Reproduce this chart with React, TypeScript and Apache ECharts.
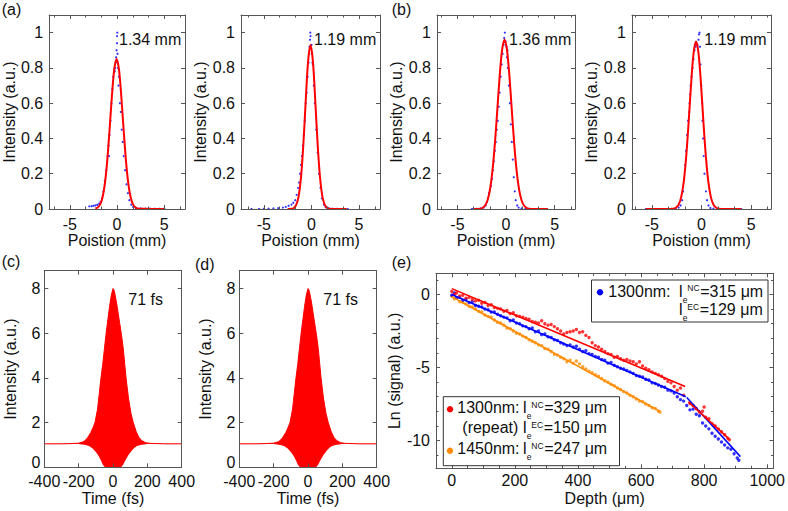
import React, { useEffect, useRef } from "react";
import * as echarts from "echarts";

const FONT = "'Liberation Sans', Arial, Helvetica, sans-serif";
const FS = 16;
const SUBFS = 8.5;
const AXIS_COLOR = "#555555";
const TEXT_COLOR = "#111111";
const RED = "#ff0000";
const BLUE = "#0000ff";
const ORANGE = "#ff8a00";

// ---------- tick values ----------
const positionTicks = [-5, 0, 5];
const positionMinorTicks = [-6.67, -3.33, -1.67, 1.67, 3.33, 6.67];
const intensityTicks = [0, 0.2, 0.4, 0.6, 0.8, 1];
const timeTicks = [-400, -200, 0, 200, 400];
const acTicks = [0, 2, 4, 6, 8];
const depthTicks = [0, 200, 400, 600, 800, 1000];
const depthMinorTicks = [-50, 50, 100, 150, 250, 300, 350, 450, 500, 550, 650, 700, 750, 850, 900, 950];
const lnTicks = [-10, -5, 0];
const lnMinorTicks = [-11, -9, -8, -7, -6, -4, -3, -2, -1, 1];

// ---------- (a)/(b) beam profiles: measured dots and Gaussian fits ----------
const profileLabels = ["1.34 mm", "1.19 mm", "1.36 mm", "1.19 mm"];

const fitA1 = [[-2.3,0.003],[-2.05,0.009],[-1.8,0.025],[-1.55,0.064],[-1.3,0.141],[-1.05,0.269],[-0.8,0.445],[-0.55,0.638],[-0.3,0.791],[-0.05,0.85],[0.2,0.791],[0.45,0.638],[0.7,0.445],[0.95,0.269],[1.2,0.141],[1.45,0.064],[1.7,0.025],[1.95,0.009],[2.2,0.003],[3,0.001],[4,0],[5,0]];
const dataA1 = [[-2.95,0.015],[-2.7,0.016],[-2.5,0.018],[-2.3,0.02],[-2.1,0.024],[-1.9,0.03],[-1.75,0.04],[-1.6,0.06],[-1.45,0.1],[-1.3,0.16],[-1.15,0.22],[-1.0,0.3],[-0.95,0.33],[-0.9,0.36],[-0.85,0.3],[-0.8,0.42],[-0.7,0.5],[-0.6,0.6],[-0.5,0.68],[-0.4,0.75],[-0.3,0.79],[-0.25,0.78],[-0.2,0.8],[-0.15,0.83],[-0.1,0.86],[-0.05,0.9],[0,0.94],[0,0.98],[0.02,1.0],[0.05,0.88],[0.1,0.8],[0.15,0.7],[0.2,0.75],[0.3,0.6],[0.4,0.55],[0.5,0.45],[0.6,0.38],[0.7,0.3],[0.85,0.22],[1.0,0.14],[1.15,0.09],[1.3,0.05],[1.5,0.025],[1.7,0.012],[2.0,0.006],[2.5,0.003],[3,0.002],[3.5,0.002],[4,0.001],[4.5,0.001],[5,0.001]];

const fitA2 = [[-2.5,0],[-2.1,0.001],[-1.85,0.006],[-1.6,0.023],[-1.35,0.07],[-1.1,0.178],[-0.85,0.367],[-0.6,0.615],[-0.35,0.839],[-0.1,0.93],[0.15,0.839],[0.4,0.615],[0.65,0.367],[0.9,0.178],[1.15,0.07],[1.4,0.023],[1.65,0.006],[1.9,0.001],[2.5,0],[3.7,0]];
const dataA2 = [[-6.3,0.0],[-5.5,0.0],[-5,0.001],[-4.5,0.002],[-4,0.003],[-3.5,0.005],[-3,0.008],[-2.7,0.012],[-2.4,0.018],[-2.1,0.025],[-1.9,0.035],[-1.7,0.05],[-1.55,0.08],[-1.4,0.12],[-1.3,0.15],[-1.2,0.2],[-1.1,0.25],[-1.0,0.3],[-0.9,0.36],[-0.8,0.42],[-0.7,0.5],[-0.6,0.6],[-0.5,0.66],[-0.4,0.75],[-0.3,0.83],[-0.25,0.88],[-0.2,0.92],[-0.15,0.96],[-0.12,1.0],[-0.1,0.98],[0,0.93],[0.05,0.88],[0.1,0.83],[0.15,0.82],[0.25,0.7],[0.35,0.6],[0.5,0.45],[0.65,0.32],[0.8,0.2],[0.95,0.12],[1.1,0.06],[1.3,0.025],[1.5,0.01],[1.8,0.004],[2.2,0.002],[2.7,0.001],[3.2,0.0],[3.8,0.0]];

const fitB1 = [[-3.4,0],[-2.65,0.002],[-2.4,0.007],[-2.15,0.02],[-1.9,0.05],[-1.65,0.109],[-1.4,0.213],[-1.15,0.366],[-0.9,0.558],[-0.65,0.755],[-0.4,0.903],[-0.15,0.96],[0.1,0.903],[0.35,0.755],[0.6,0.558],[0.85,0.366],[1.1,0.213],[1.35,0.109],[1.6,0.05],[1.85,0.02],[2.1,0.007],[2.35,0.002],[3,0],[4.3,0]];
const dataB1 = [[-3.5,0.0],[-3,0.001],[-2.6,0.003],[-2.3,0.008],[-2.1,0.02],[-1.95,0.04],[-1.85,0.06],[-1.75,0.09],[-1.65,0.11],[-1.55,0.13],[-1.45,0.17],[-1.35,0.22],[-1.25,0.27],[-1.15,0.33],[-1.05,0.38],[-0.95,0.45],[-0.85,0.5],[-0.75,0.58],[-0.65,0.66],[-0.55,0.75],[-0.45,0.82],[-0.35,0.88],[-0.25,0.93],[-0.18,0.97],[-0.12,1.0],[-0.05,0.95],[0.05,0.92],[0.1,0.86],[0.15,0.9],[0.2,0.8],[0.3,0.7],[0.4,0.6],[0.5,0.48],[0.6,0.38],[0.7,0.28],[0.8,0.18],[0.9,0.1],[1.0,0.05],[1.15,0.02],[1.3,0.008],[1.6,0.003],[2.0,0.001],[2.5,0.0],[3.0,0.0],[3.5,0.0],[4.2,0.0]];

const fitB2 = [[-5.6,0],[-3.5,0],[-2.8,0.002],[-2.55,0.008],[-2.3,0.025],[-2.05,0.066],[-1.8,0.149],[-1.55,0.291],[-1.3,0.488],[-1.05,0.707],[-0.8,0.883],[-0.55,0.95],[-0.3,0.883],[-0.05,0.707],[0.2,0.488],[0.45,0.291],[0.7,0.149],[0.95,0.066],[1.2,0.025],[1.45,0.008],[1.7,0.002],[2.5,0],[4.0,0]];
const dataB2 = [[-5.6,0.0],[-5,0.0],[-4.5,0.0],[-4,0.0],[-3.5,0.0],[-3,0.001],[-2.6,0.003],[-2.3,0.008],[-2.1,0.02],[-1.95,0.05],[-1.85,0.1],[-1.75,0.17],[-1.65,0.25],[-1.55,0.33],[-1.45,0.42],[-1.35,0.5],[-1.25,0.55],[-1.2,0.6],[-1.15,0.65],[-1.1,0.7],[-1.0,0.75],[-0.9,0.8],[-0.8,0.85],[-0.7,0.9],[-0.6,0.92],[-0.5,0.93],[-0.4,0.93],[-0.3,0.96],[-0.25,0.99],[-0.2,1.0],[-0.15,0.92],[-0.1,0.82],[-0.02,0.7],[0.06,0.6],[0.1,0.5],[0.16,0.4],[0.22,0.3],[0.3,0.2],[0.45,0.1],[0.56,0.05],[0.7,0.02],[0.9,0.006],[1.2,0.002],[2,0.0],[3,0.0],[4,0.0]];

// ---------- (c)/(d) interferometric autocorrelation envelopes ----------
const acLabel = "71 fs";
const acUpper = [[-400,1.05],[-300,1.05],[-250,1.06],[-200,1.08],[-170,1.15],[-150,1.3],[-130,1.55],[-115,1.8],[-105,2.0],[-90,2.6],[-80,3.3],[-70,4.0],[-60,4.6],[-50,5.3],[-40,6.0],[-30,6.6],[-20,7.2],[-10,7.7],[0,8.0],[5,7.95],[10,7.8],[20,7.4],[30,6.9],[40,6.4],[50,5.9],[60,5.3],[76,4.0],[90,3.1],[105,2.4],[118,2.0],[135,1.6],[150,1.35],[167,1.2],[190,1.1],[220,1.07],[300,1.05],[400,1.05]];
const acLower = [[-400,1.05],[-200,1.04],[-160,1.0],[-140,0.95],[-120,0.85],[-100,0.68],[-90,0.58],[-80,0.45],[-70,0.3],[-60,0.12],[-50,0.02],[-40,0],[40,0],[50,0.03],[60,0.12],[70,0.28],[80,0.42],[90,0.55],[100,0.65],[110,0.75],[125,0.87],[140,0.95],[160,1.0],[200,1.04],[400,1.05]];

// ---------- (e) depth-dependent signal ----------
const blue1300 = [[0,-0.05],[8,0.1],[15,-0.25],[25,-0.2],[35,-0.4],[45,-0.35],[55,-0.55],[65,-0.5],[75,-0.75],[85,-0.8],[95,-0.85],[105,-1.0],[115,-1.05],[125,-1.2],[135,-1.2],[145,-1.35],[155,-1.45],[165,-1.55],[175,-1.6],[185,-1.8],[195,-1.75],[205,-1.95],[215,-2.0],[225,-2.15],[235,-2.2],[245,-2.35],[255,-2.3],[265,-2.55],[275,-2.5],[285,-2.75],[295,-2.7],[305,-2.9],[315,-2.95],[325,-3.1],[335,-3.15],[345,-3.3],[355,-3.4],[365,-3.5],[375,-3.45],[385,-3.6],[395,-3.55],[405,-3.75],[415,-3.9],[425,-3.85],[435,-4.05],[445,-4.1],[455,-4.25],[465,-4.3],[475,-4.45],[485,-4.5],[495,-4.7],[505,-4.65],[515,-4.85],[525,-4.95],[535,-5.05],[545,-5.1],[555,-5.2],[565,-5.3],[575,-5.4],[585,-5.55],[595,-5.6],[605,-5.65],[615,-5.8],[625,-5.85],[635,-6.05],[645,-6.1],[655,-6.2],[665,-6.3],[675,-6.35],[685,-6.55],[695,-6.6],[705,-6.75],[715,-7.0],[725,-7.2],[735,-7.3],[745,-7.6],[755,-7.9],[765,-7.85],[775,-8.2],[785,-8.3],[795,-8.8],[805,-9.0],[815,-9.2],[825,-9.5],[835,-9.7],[845,-9.9],[855,-10.1],[865,-10.3],[875,-10.5],[885,-10.6],[895,-10.9],[905,-11.2],[910,-11.35]];
const red1300 = [[0,0.2],[8,0.0],[15,0.1],[25,-0.1],[35,-0.05],[45,-0.25],[55,-0.2],[65,-0.35],[75,-0.45],[85,-0.4],[95,-0.6],[105,-0.55],[115,-0.75],[125,-0.7],[135,-0.9],[145,-0.95],[155,-1.0],[165,-1.15],[175,-1.1],[185,-1.3],[195,-1.25],[205,-1.45],[215,-1.5],[225,-1.55],[235,-1.65],[245,-1.7],[255,-1.85],[265,-1.9],[275,-1.95],[285,-1.8],[295,-2.0],[305,-2.1],[315,-2.05],[325,-2.2],[335,-2.35],[345,-2.5],[355,-2.7],[365,-2.6],[375,-2.55],[385,-2.5],[395,-2.4],[405,-2.6],[415,-2.55],[425,-2.8],[435,-2.95],[445,-3.3],[455,-3.5],[465,-3.6],[475,-3.75],[485,-3.9],[495,-4.05],[505,-4.1],[515,-4.3],[525,-4.25],[535,-4.4],[545,-4.5],[555,-4.45],[565,-4.55],[575,-4.6],[585,-4.75],[595,-4.6],[605,-4.9],[615,-5.05],[625,-5.15],[635,-5.3],[645,-5.4],[655,-5.5],[665,-5.6],[675,-5.75],[685,-5.95],[695,-6.05],[705,-6.3],[715,-6.55],[725,-6.4],[735,-6.9],[755,-7.45],[765,-7.6],[775,-7.8],[785,-8.05],[795,-8.0],[800,-7.7],[805,-8.4],[815,-8.5],[825,-8.85],[835,-9.0],[845,-9.2],[855,-9.4],[865,-9.6],[875,-9.85],[880,-9.95]];
const orange1450 = [[0,-0.1],[8,-0.3],[15,-0.25],[25,-0.5],[35,-0.55],[45,-0.65],[55,-0.8],[65,-0.85],[75,-1.0],[85,-1.15],[95,-1.2],[105,-1.4],[115,-1.5],[125,-1.55],[135,-1.75],[145,-1.9],[155,-1.95],[165,-2.1],[175,-2.3],[185,-2.35],[195,-2.5],[205,-2.65],[215,-2.7],[225,-2.85],[235,-2.95],[245,-3.1],[255,-3.2],[265,-3.3],[275,-3.45],[285,-3.5],[295,-3.7],[305,-3.75],[315,-3.9],[325,-4.1],[335,-4.15],[345,-4.3],[355,-4.4],[365,-4.6],[375,-4.5],[385,-4.7],[395,-4.55],[405,-4.75],[415,-4.95],[425,-5.1],[435,-5.25],[445,-5.35],[455,-5.5],[465,-5.6],[475,-5.75],[485,-5.9],[495,-6.0],[505,-6.15],[515,-6.25],[525,-6.4],[535,-6.5],[545,-6.65],[555,-6.75],[565,-6.9],[575,-7.0],[585,-7.15],[595,-7.3],[605,-7.35],[615,-7.5],[625,-7.6],[635,-7.75],[645,-7.8],[655,-8.0],[660,-8.05]];
const fitRedNC = [[0,0.4],[740,-6.3]];
const fitRedEC = [[750,-7.35],[880,-9.9]];
const fitBlueNC = [[0,0],[742,-7.0]];
const fitBlueEC = [[745,-7.05],[915,-11.1]];
const fitOrangeNC = [[0,-0.15],[660,-8.0]];
const legendValues = { blueNC: "=315 μm", blueEC: "=129 μm", redNC: "=329 μm", redEC: "=150 μm", orangeNC: "=247 μm" };

let measureCtx: CanvasRenderingContext2D | null = null;
function measure(text: string, size: number): number {
  if (!measureCtx) measureCtx = document.createElement("canvas").getContext("2d");
  if (!measureCtx) return text.length * size * 0.55;
  measureCtx.font = `${size}px ${FONT}`;
  return measureCtx.measureText(text).width;
}

function txt(x: number, yMid: number, text: string, size = FS, align = "left"): any {
  return {
    type: "text",
    x,
    y: yMid,
    z: 60,
    silent: true,
    style: {
      text,
      fontSize: size,
      fontFamily: FONT,
      fill: TEXT_COLOR,
      align,
      verticalAlign: "middle",
      textAlign: align,
      textVerticalAlign: "middle",
      lineHeight: Math.round(size * 0.8),
    },
  };
}

// text placed by its baseline: mid = baseline - 0.35*size
function tb(x: number, baseline: number, text: string, size = FS) {
  return txt(x, baseline - 0.35 * size, text, size);
}

function attLine(xL: number, baseline: number, sub: string, sup: string, post: string) {
  const els: any[] = [];
  els.push(tb(xL, baseline, "l"));
  const xs = xL + measure("l", FS) + 0.3;
  els.push(tb(xs, baseline + 6, sub, SUBFS));
  const xsup = xs + measure(sub, SUBFS) - 0.3;
  els.push(tb(xsup, baseline - 5.5, sup, SUBFS));
  const xpost = xsup + measure(sup, SUBFS) + 0.6;
  els.push(tb(xpost, baseline, post));
  return els;
}

export default function App() {
  const ref = useRef<HTMLDivElement>(null);

  useEffect(() => {
    if (!ref.current) return;
    const chart = echarts.init(ref.current, null, { renderer: "svg" });

    const grids: any[] = [];
    const xAxes: any[] = [];
    const yAxes: any[] = [];
    const series: any[] = [];

    type AxisSpec = {
      min: number; max: number; major: number[]; minor?: number[];
      name: string; nameGap: number; margin: number; fmt?: (v: number) => string; rich?: any;
    };

    const mainAxis = (g: number, pos: string, s: AxisSpec) => ({
      type: "value", gridIndex: g, position: pos, min: s.min, max: s.max, z: 10,
      name: s.name, nameLocation: "middle", nameGap: s.nameGap,
      nameTextStyle: { fontSize: FS, fontFamily: FONT, color: TEXT_COLOR, lineHeight: 16 },
      axisLine: { show: true, onZero: false, lineStyle: { color: AXIS_COLOR, width: 1 } },
      axisTick: { show: true, inside: true, length: 4, customValues: s.major, lineStyle: { color: AXIS_COLOR, width: 1 } },
      axisLabel: {
        show: true, customValues: s.major, margin: s.margin, fontSize: FS, fontFamily: FONT, color: TEXT_COLOR,
        lineHeight: 12,
        rich: s.rich,
        formatter: (v: number) => (s.fmt ? s.fmt(v) : String(v)),
      },
      splitLine: { show: false },
    });
    const plainAxis = (g: number, pos: string, min: number, max: number, ticks: number[], len: number, line: boolean) => ({
      type: "value", gridIndex: g, position: pos, min, max, z: 10,
      axisLine: { show: line, onZero: false, lineStyle: { color: AXIS_COLOR, width: 1 } },
      axisTick: { show: true, inside: true, length: len, customValues: ticks, lineStyle: { color: AXIS_COLOR, width: 1 } },
      axisLabel: { show: false },
      splitLine: { show: false },
    });

    function addGrid(box: any, xs: AxisSpec, ys: AxisSpec) {
      const g = grids.length;
      grids.push({ left: box.left, top: box.top, width: box.width, height: box.height, containLabel: false });
      const xi = xAxes.length;
      xAxes.push(mainAxis(g, "bottom", xs));
      xAxes.push(plainAxis(g, "top", xs.min, xs.max, xs.major, 4, true));
      if (xs.minor) {
        xAxes.push(plainAxis(g, "bottom", xs.min, xs.max, xs.minor, 2.5, false));
        xAxes.push(plainAxis(g, "top", xs.min, xs.max, xs.minor, 2.5, false));
      }
      const yi = yAxes.length;
      yAxes.push(mainAxis(g, "left", ys));
      yAxes.push(plainAxis(g, "right", ys.min, ys.max, ys.major, 4, true));
      if (ys.minor) {
        yAxes.push(plainAxis(g, "left", ys.min, ys.max, ys.minor, 2.5, false));
        yAxes.push(plainAxis(g, "right", ys.min, ys.max, ys.minor, 2.5, false));
      }
      return { xi, yi };
    }

    const intFmt = (v: number) => (v === 0 ? "0" : v === 1 ? "1" : v.toFixed(1));
    // lift the "0" label of (c)/(d) slightly so it clears the "-400" label below it
    const acYFmt = (v: number) => (v === 0 ? "{lo|0}" : String(v));
    const acYRich = {
      lo: { fontSize: FS, fontFamily: FONT, color: TEXT_COLOR, lineHeight: 12, padding: [0, 0, 9, 0] },
    };

    // ---- top row ----
    const topBoxes = [
      { left: 47, top: 15, width: 138, height: 194, xmin: -7.2, xmax: 7.2, labelX: 119 },
      { left: 241, top: 15, width: 139, height: 194, xmin: -7.4, xmax: 7.2, labelX: 314 },
      { left: 437, top: 15, width: 138, height: 194, xmin: -7.1, xmax: 7.1, labelX: 509 },
      { left: 632, top: 15, width: 139, height: 194, xmin: -7.0, xmax: 7.0, labelX: 704.3 },
    ];
    const fits = [fitA1, fitA2, fitB1, fitB2];
    const dots = [dataA1, dataA2, dataB1, dataB2];
    const graphics: any[] = [];

    topBoxes.forEach((b, i) => {
      const { xi, yi } = addGrid(
        b,
        { min: b.xmin, max: b.xmax, major: positionTicks, minor: positionMinorTicks, name: "Poistion (mm)", nameGap: 20, margin: 9 },
        { min: 0, max: 1.1, major: intensityTicks, name: "Intensity (a.u.)", nameGap: 24, margin: 6, fmt: intFmt },
      );
      series.push({
        type: "scatter", xAxisIndex: xi, yAxisIndex: yi, data: dots[i], symbol: "circle", symbolSize: 2.2,
        itemStyle: { color: BLUE }, silent: true, z: 2,
      });
      series.push({
        type: "line", xAxisIndex: xi, yAxisIndex: yi, data: fits[i], showSymbol: false, smooth: 0.3,
        lineStyle: { color: RED, width: 2 }, silent: true, z: 3,
      });
      graphics.push(tb(b.labelX, 45, profileLabels[i]));
    });

    // ---- (c) and (d) ----
    const acBoxes = [
      { left: 44.3, top: 270.7, width: 137.4, height: 196.6, labelX: 128.3 },
      { left: 239.3, top: 270.7, width: 137.4, height: 196.6, labelX: 323.3 },
    ];
    acBoxes.forEach((b) => {
      const { xi, yi } = addGrid(
        b,
        { min: -400, max: 400, major: timeTicks, name: "Time (fs)", nameGap: 23, margin: 8 },
        { min: 0, max: 8.8, major: acTicks, name: "Intensity (a.u.)", nameGap: 26, margin: 4, fmt: acYFmt, rich: acYRich },
      );
      series.push({
        type: "line", xAxisIndex: xi, yAxisIndex: yi, data: acUpper, showSymbol: false,
        lineStyle: { opacity: 0, width: 0 }, areaStyle: { color: RED, opacity: 1 }, silent: true, z: 2,
      });
      series.push({
        type: "line", xAxisIndex: xi, yAxisIndex: yi, data: acLower, showSymbol: false,
        lineStyle: { opacity: 0, width: 0 }, areaStyle: { color: "#ffffff", opacity: 1 }, silent: true, z: 3,
      });
      series.push({
        type: "line", xAxisIndex: xi, yAxisIndex: yi, data: acUpper, showSymbol: false,
        lineStyle: { color: RED, width: 1 }, silent: true, z: 4,
      });
      graphics.push(tb(b.labelX, 305, acLabel));
    });

    // ---- (e) ----
    const eAx = addGrid(
      { left: 436, top: 273.3, width: 339, height: 195 },
      { min: -50, max: 1020, major: depthTicks, minor: depthMinorTicks, name: "Depth (μm)", nameGap: 22, margin: 6 },
      { min: -11.9, max: 1.45, major: lnTicks, minor: lnMinorTicks, name: "Ln (signal) (a.u.)", nameGap: 27, margin: 6 },
    );
    const sc = (data: number[][], color: string) => ({
      type: "scatter", xAxisIndex: eAx.xi, yAxisIndex: eAx.yi, data, symbol: "circle", symbolSize: 3.4,
      itemStyle: { color }, silent: true, z: 2,
    });
    const fl = (data: number[][], color: string) => ({
      type: "line", xAxisIndex: eAx.xi, yAxisIndex: eAx.yi, data, showSymbol: false,
      lineStyle: { color, width: 1.6 }, silent: true, z: 3,
    });
    series.push(sc(orange1450, ORANGE), sc(blue1300, BLUE), sc(red1300, RED));
    series.push(fl(fitOrangeNC, ORANGE), fl(fitBlueNC, BLUE), fl(fitBlueEC, BLUE), fl(fitRedNC, RED), fl(fitRedEC, RED));

    // panel letters
    graphics.push(txt(1.7, 9, "(a)"), txt(391.7, 9, "(b)"), txt(1.7, 261, "(c)"), txt(195, 264, "(d)"), txt(391.7, 262.5, "(e)"));

    // legend 1 (blue)
    graphics.push({
      type: "rect", z: 50, silent: true,
      shape: { x: 591.5, y: 280, width: 176.5, height: 42 },
      style: { fill: "#ffffff", stroke: "#333333", lineWidth: 1 },
    });
    graphics.push({ type: "circle", z: 55, silent: true, shape: { cx: 600, cy: 292.3, r: 3.2 }, style: { fill: BLUE } });
    graphics.push(tb(608.3, 296.7, "1300nm:"));
    graphics.push(...attLine(679, 296.7, "e", "NC", legendValues.blueNC));
    graphics.push(...attLine(679, 315, "e", "EC", legendValues.blueEC));

    // legend 2 (red / orange)
    graphics.push({
      type: "rect", z: 50, silent: true,
      shape: { x: 443.3, y: 396.7, width: 176.2, height: 69 },
      style: { fill: "#ffffff", stroke: "#333333", lineWidth: 1 },
    });
    graphics.push({ type: "circle", z: 55, silent: true, shape: { cx: 450, cy: 409.3, r: 3.2 }, style: { fill: RED } });
    graphics.push({ type: "circle", z: 55, silent: true, shape: { cx: 450, cy: 450.7, r: 3.2 }, style: { fill: ORANGE } });
    graphics.push(tb(457.3, 413.3, "1300nm:"));
    graphics.push(...attLine(523, 413.3, "e", "NC", legendValues.redNC));
    graphics.push(tb(462.3, 433.3, "(repeat)"));
    graphics.push(...attLine(523, 433.3, "e", "EC", legendValues.redEC));
    graphics.push(tb(457.3, 454, "1450nm:"));
    graphics.push(...attLine(523, 454, "e", "NC", legendValues.orangeNC));

    chart.setOption({
      animation: false,
      backgroundColor: "#ffffff",
      grid: grids,
      xAxis: xAxes,
      yAxis: yAxes,
      series,
      graphic: { elements: graphics },
    });

    return () => chart.dispose();
  }, []);

  return (
    <div
      ref={ref}
      style={{ position: "absolute", left: 0, top: 0, width: 788, height: 511, background: "#ffffff" }}
    />
  );
}
